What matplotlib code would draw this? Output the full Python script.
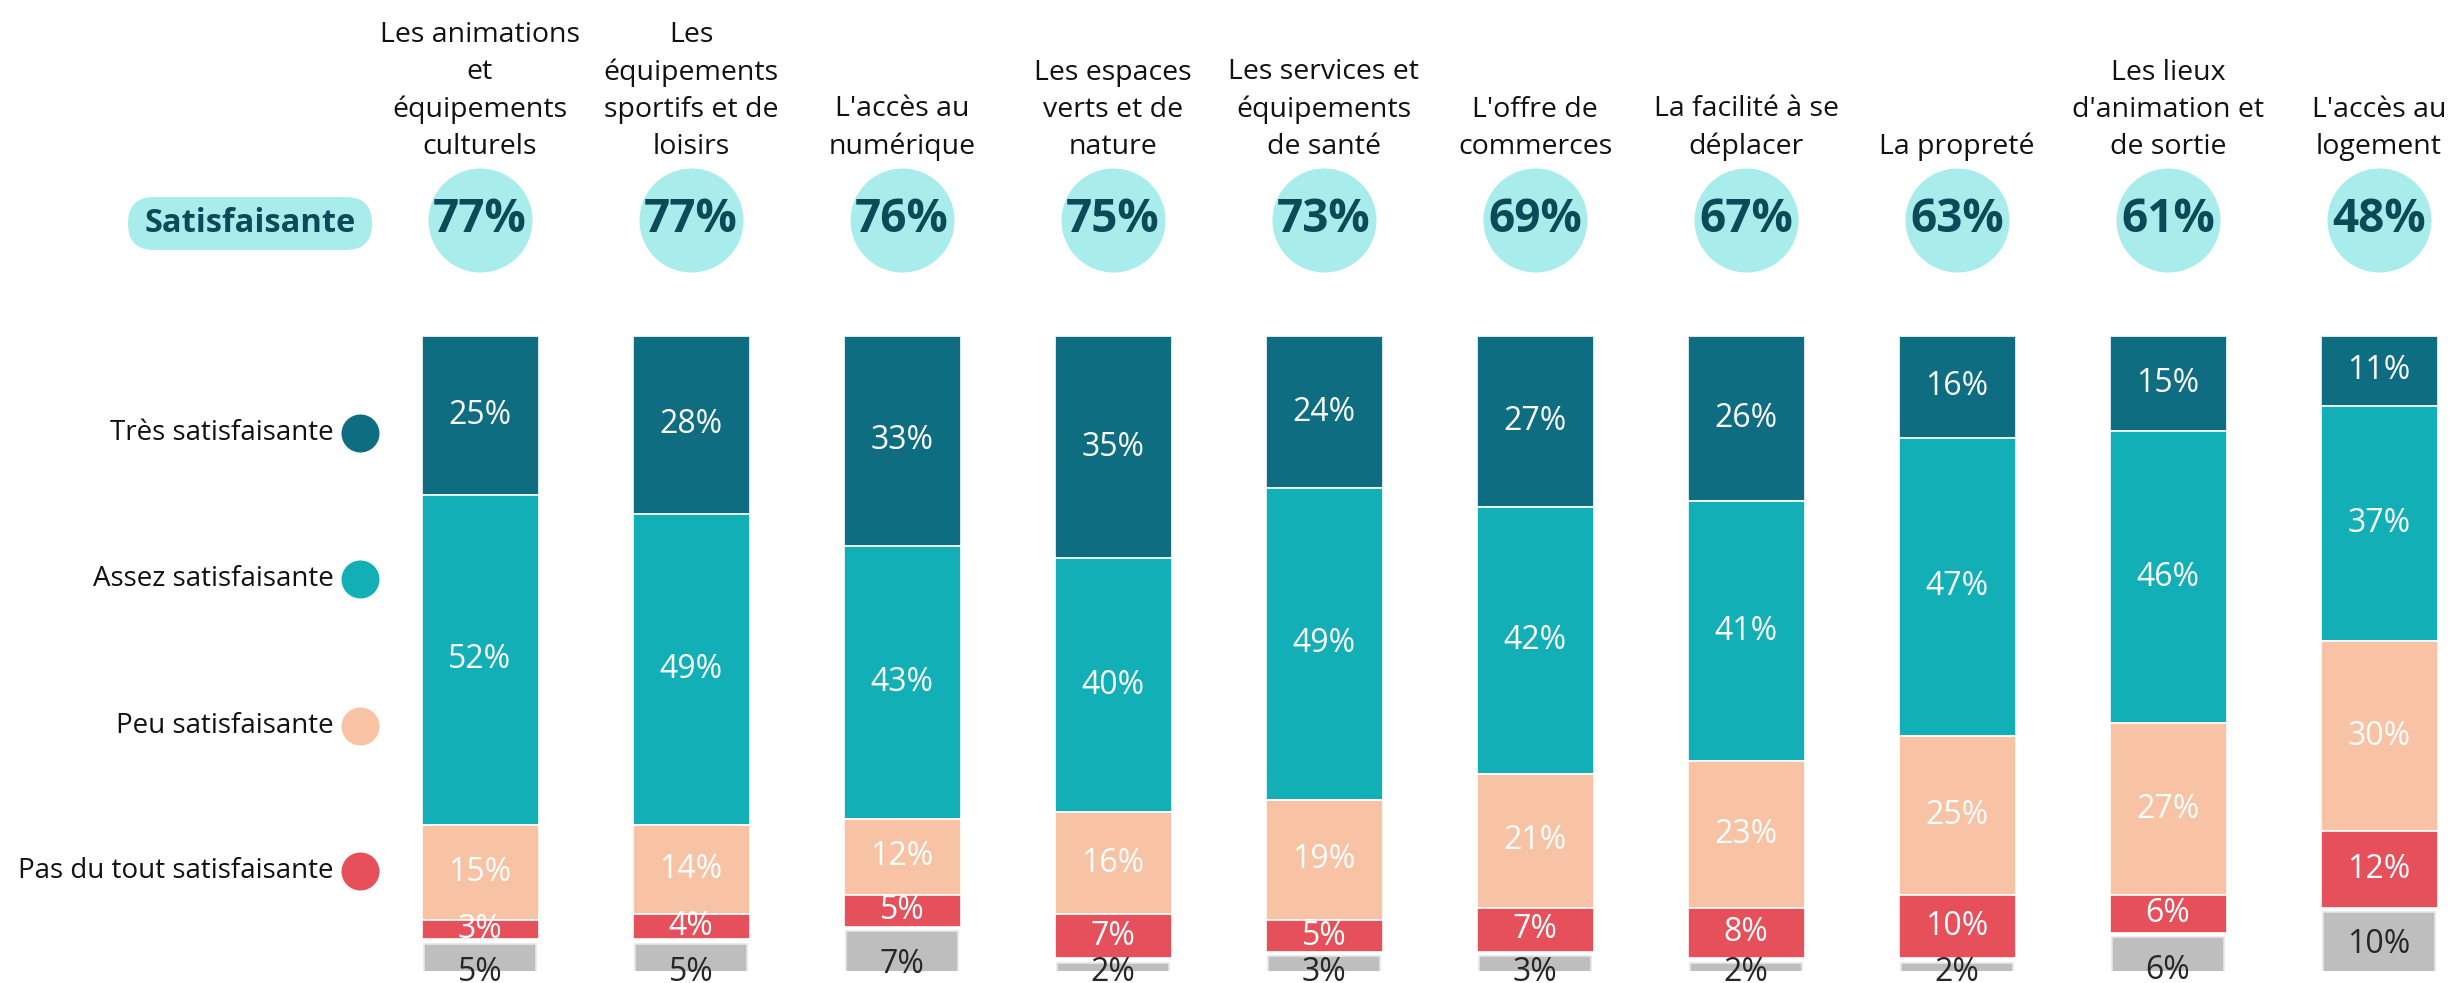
import matplotlib
matplotlib.use("Agg")
import matplotlib.pyplot as plt
from matplotlib.patches import FancyBboxPatch
import numpy as np

plt.rcParams['font.family'] = ['Open Sans', 'DejaVu Sans']

categories = [
    "Les animations\net\néquipements\nculturels",
    "Les\néquipements\nsportifs et de\nloisirs",
    "L'accès au\nnumérique",
    "Les espaces\nverts et de\nnature",
    "Les services et\néquipements\nde santé",
    "L'offre de\ncommerces",
    "La facilité à se\ndéplacer",
    "La propreté",
    "Les lieux\nd'animation et\nde sortie",
    "L'accès au\nlogement",
]
satisfaisante = [77, 77, 76, 75, 73, 69, 67, 63, 61, 48]
tres = [25, 28, 33, 35, 24, 27, 26, 16, 15, 11]
assez = [52, 49, 43, 40, 49, 42, 41, 47, 46, 37]
peu = [15, 14, 12, 16, 19, 21, 23, 25, 27, 30]
pas_du_tout = [3, 4, 5, 7, 5, 7, 8, 10, 6, 12]
nsp = [5, 5, 7, 2, 3, 3, 2, 2, 6, 10]

series_names = ["Très satisfaisante", "Assez satisfaisante",
                "Peu satisfaisante", "Pas du tout satisfaisante"]
colors = ["#0E6D81", "#13AFB7", "#F7C3A4", "#E6505A"]
gray = "#BEBEBE"
bubble = "#A8ECEB"
darkteal = "#0C4A57"

W, H = 2453, 983
fig = plt.figure(figsize=(W / 100, H / 100), dpi=100)

# overlay in pixel coords (y up)
ov = fig.add_axes([0, 0, 1, 1])
ov.set_xlim(0, W)
ov.set_ylim(0, H)
ov.axis('off')

# bar axes: value 0 at y=336px, 100 at y=971px; bar centers 480 + 211*i
step = 211.0
x0 = 480.0
xl, xr = -0.5, 9.3
ax = fig.add_axes([(x0 + xl * step) / W, 1 - 971 / H, (xr - xl) * step / W, 635 / H])
ax.set_xlim(xl, xr)
ax.set_ylim(100, 0)
ax.axis('off')

x = np.arange(len(categories))
bw = 117 / step
stack = [tres, assez, peu, pas_du_tout]
bottom = np.zeros(len(x))
for vals, col in zip(stack, colors):
    vals = np.array(vals, dtype=float)
    ax.bar(x, vals, bottom=bottom, width=bw, color=col, edgecolor='white',
           linewidth=1.2, align='center')
    for xi, b, v in zip(x, bottom, vals):
        ax.text(xi, b + v / 2, f"{int(v)}%", ha='center', va='center',
                color='white', fontsize=23)
    bottom += vals

gap = 0.7
gstart = bottom + gap
ax.bar(x, nsp, bottom=gstart, width=bw * 0.96, color=gray, edgecolor='#E6E6E6',
       linewidth=1.2)
for xi, s, v in zip(x, gstart, nsp):
    ax.text(xi, min(s + 5.2, 100.3), f"{v}%", ha='center', va='center',
            color='#262626', fontsize=23, clip_on=False)

# category titles and bubbles
tr = ax.get_xaxis_transform()
for xi, c in zip(x, categories):
    ax.text(xi, (971 - 161) / 635, c, transform=tr, ha='center', va='bottom',
            fontsize=20.5, linespacing=1.43, color='#111111', clip_on=False)
by = (971 - 220) / 635
ax.scatter(x, [by] * len(x), s=(104 * 0.72) ** 2, color=bubble,
           transform=tr, clip_on=False, zorder=3, linewidths=0)
for xi, v in zip(x, satisfaisante):
    ax.text(xi, by, f"{v}%", transform=tr, ha='center', va='center',
            fontsize=33, fontweight='bold', color=darkteal, zorder=4,
            clip_on=False)

# "Satisfaisante" pill
pill = FancyBboxPatch((128 + 26, H - 250 + 26), 244 - 52, 1,
                      boxstyle="round,pad=26,rounding_size=26",
                      fc=bubble, ec='none')
ov.add_patch(pill)
ov.text(250, H - 223.5, "Satisfaisante", ha='center', va='center',
        fontsize=23.5, fontweight='bold', color=darkteal)

# legend
leg_y = [433, 579, 726, 871]
for name, col, yy in zip(series_names, colors, leg_y):
    ov.scatter([360], [H - yy], s=(38 * 0.72) ** 2, color=col, linewidths=0)
    ov.text(334, H - yy, name, ha='right', va='center', fontsize=20,
            color='#111111')

fig.savefig("out.png", dpi=100)
